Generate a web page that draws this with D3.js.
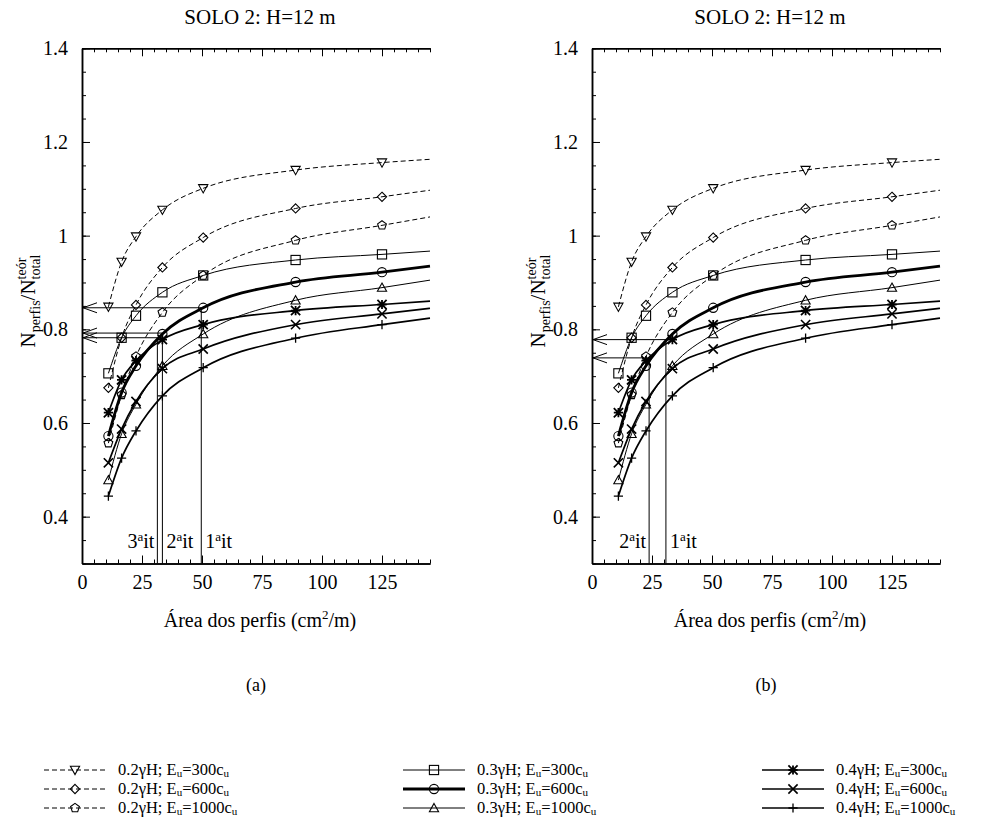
<!DOCTYPE html>
<html>
<head>
<meta charset="utf-8">
<script src="https://cdn.jsdelivr.net/npm/d3@7"></script>
<style>
  body { margin: 0; background: #fff; }
  svg { display: block; font-family: "Liberation Serif", "Times New Roman", serif; }
</style>
</head>
<body>
<svg id="chart" width="998" height="830"></svg>
<script>
// Sheet-pile profile areas (cm²/m) where results were computed
const areas = [11, 16.5, 22.5, 33.5, 50.5, 89, 125];
// Fitted curves are traced up to this area
const areaEnd = 145;

// N_perfis / N_total^teór for each case (load level, undrained modulus)
const s02E300  = [0.848, 0.944, 0.998, 1.055, 1.101, 1.140, 1.156];
const s02E600  = [0.675, 0.782, 0.852, 0.932, 0.996, 1.058, 1.083];
const s02E1000 = [0.557, 0.660, 0.742, 0.836, 0.915, 0.990, 1.022];
const s03E300  = [0.706, 0.782, 0.829, 0.879, 0.915, 0.948, 0.960];
const s03E600  = [0.572, 0.665, 0.722, 0.790, 0.846, 0.901, 0.922];
const s03E1000 = [0.478, 0.577, 0.640, 0.722, 0.790, 0.862, 0.889];
const s04E300  = [0.622, 0.692, 0.733, 0.778, 0.810, 0.840, 0.853];
const s04E600  = [0.515, 0.587, 0.646, 0.716, 0.758, 0.810, 0.833];
const s04E1000 = [0.444, 0.525, 0.583, 0.658, 0.718, 0.781, 0.810];
// value of each fitted curve at areaEnd
const curveEnds = [1.163, 1.097, 1.040, 0.967, 0.935, 0.905, 0.860, 0.845, 0.824];

const loadLevels = ["0.2", "0.2", "0.2", "0.3", "0.3", "0.3", "0.4", "0.4", "0.4"];
const moduli     = [300, 600, 1000, 300, 600, 1000, 300, 600, 1000];
const seriesValues = [s02E300, s02E600, s02E1000, s03E300, s03E600, s03E1000, s04E300, s04E600, s04E1000];

// Iterations on the design area, panel (a) and panel (b)
const iterAreaA  = [49.7, 33.5, 31.4];
const iterRatioA = [0.846, 0.792, 0.782];
const iterAreaB  = [30.8, 23.8];
const iterRatioB = [0.778, 0.739];

const xTicks = [0, 25, 50, 75, 100, 125];
const yTicks = [0.4, 0.6, 0.8, 1, 1.2, 1.4];
const titleText = "SOLO 2: H=12 m";

// ---- drawing ----
const svg = d3.select("#chart");
const black = "#000";
const serif = "Liberation Serif, Times New Roman, serif";

const y = d3.scaleLinear().domain([0.3, 1.4]).range([563.5, 48.3]);

// marker shapes (gnuplot-like point types)
const markerKinds = ["triDown", "diamond", "pentagon", "square", "circle", "triUp", "star", "cross", "plus"];
function drawMarker(g, kind, cx, cy) {
  const m = g.append("g").attr("transform", `translate(${cx},${cy})`)
    .attr("fill", "none").attr("stroke", black).attr("stroke-width", 1.1);
  const r = 4.6;
  if (kind === "triDown") m.append("path").attr("d", `M${-r},${-r*0.8}L${r},${-r*0.8}L0,${r}Z`);
  else if (kind === "triUp") m.append("path").attr("d", `M0,${-r}L${r},${r*0.8}L${-r},${r*0.8}Z`);
  else if (kind === "diamond") m.append("path").attr("d", `M0,${-r}L${r},0L0,${r}L${-r},0Z`);
  else if (kind === "square") m.append("rect").attr("x", -r).attr("y", -r).attr("width", 2*r).attr("height", 2*r);
  else if (kind === "circle") m.append("circle").attr("r", r);
  else if (kind === "pentagon") {
    const pts = d3.range(5).map(k => {
      const a = -Math.PI / 2 + k * 2 * Math.PI / 5;
      return [r * Math.cos(a), r * Math.sin(a)];
    });
    m.append("path").attr("d", "M" + pts.map(p => p.join(",")).join("L") + "Z");
  } else if (kind === "plus") {
    m.attr("stroke-width", 1.3);
    m.append("path").attr("d", `M${-r},0L${r},0M0,${-r}L0,${r}`);
  } else if (kind === "cross") {
    m.attr("stroke-width", 1.6);
    m.append("path").attr("d", `M${-r},${-r}L${r},${r}M${-r},${r}L${r},${-r}`);
  } else if (kind === "star") {
    m.attr("stroke-width", 1.8);
    m.append("path").attr("d", `M${-r},${-r}L${r},${r}M${-r},${r}L${r},${-r}M${-r},0L${r},0M0,${-r}L0,${r}`);
  }
}

function lineStyle(i) {
  const load = loadLevels[i];
  if (load === "0.2") return { width: 1, dash: "5,3" };
  if (load === "0.3") return { width: moduli[i] === 600 ? 2.8 : 1, dash: null };
  return { width: 1.7, dash: null };
}

function drawPanel(left, iterArea, iterRatio, caption) {
  const x = d3.scaleLinear().domain([0, areaEnd]).range([left, left + 2.4 * areaEnd]);
  const g = svg.append("g");
  const x0 = x(0), xMid = (x(0) + x(areaEnd)) / 2;

  // axes: major ticks every 25 / 0.2, minor every 5 / 0.05, all pointing inward
  const minorX = d3.range(0, areaEnd + 0.1, 5);
  const minorY = d3.range(0.3, 1.401, 0.05).map(v => +v.toFixed(2));

  const styleAxis = sel => {
    sel.select(".domain").attr("stroke", black).attr("stroke-width", 1.5);
    sel.selectAll(".tick line").attr("stroke", black).attr("stroke-width", 1);
    sel.selectAll(".tick text").attr("fill", black).attr("font-size", 20).attr("font-family", serif);
  };

  g.append("g").attr("transform", `translate(0,${y(0.3)})`)
    .call(d3.axisBottom(x).tickValues(minorX).tickSize(-4).tickSizeOuter(0).tickFormat(""))
    .call(styleAxis);
  g.append("g").attr("transform", `translate(0,${y(0.3)})`)
    .call(d3.axisBottom(x).tickValues(xTicks).tickSize(-8).tickSizeOuter(0).tickPadding(11).tickFormat(d3.format("d")))
    .call(styleAxis);
  g.append("g").attr("transform", `translate(0,${y(1.4)})`)
    .call(d3.axisTop(x).tickValues(minorX).tickSize(-4).tickSizeOuter(0).tickFormat(""))
    .call(styleAxis);
  g.append("g").attr("transform", `translate(0,${y(1.4)})`)
    .call(d3.axisTop(x).tickValues(xTicks).tickSize(-8).tickSizeOuter(0).tickFormat(""))
    .call(styleAxis);
  g.append("g").attr("transform", `translate(${x0},0)`)
    .call(d3.axisLeft(y).tickValues(minorY).tickSize(-4).tickSizeOuter(0).tickFormat(""))
    .call(styleAxis);
  g.append("g").attr("transform", `translate(${x0},0)`)
    .call(d3.axisLeft(y).tickValues(yTicks).tickSize(-8).tickSizeOuter(0).tickPadding(14).tickFormat(d => String(d)))
    .call(styleAxis);

  // curves
  const line = d3.line().x(d => x(d[0])).y(d => y(d[1])).curve(d3.curveMonotoneX);
  seriesValues.forEach((vals, i) => {
    const pts = areas.map((a, j) => [a, vals[j]]).concat([[areaEnd, curveEnds[i]]]);
    const st = lineStyle(i);
    g.append("path").attr("d", line(pts)).attr("fill", "none").attr("stroke", black)
      .attr("stroke-width", st.width).attr("stroke-dasharray", st.dash);
  });
  seriesValues.forEach((vals, i) => {
    areas.forEach((a, j) => drawMarker(g, markerKinds[i], x(a), y(vals[j])));
  });

  // iteration construction lines with arrows onto the ratio axis
  const last = iterArea.length - 1;
  iterArea.forEach((a, i) => {
    const xa = x(a), yr = y(iterRatio[i]);
    g.append("line").attr("x1", xa).attr("x2", xa).attr("y1", y(0.3)).attr("y2", yr)
      .attr("stroke", black).attr("stroke-width", 1);
    g.append("line").attr("x1", xa).attr("x2", x0).attr("y1", yr).attr("y2", yr)
      .attr("stroke", black).attr("stroke-width", 1);
    g.append("path").attr("d", `M${x0 + 15},${yr - 5}L${x0 + 1},${yr}L${x0 + 15},${yr + 5}`)
      .attr("fill", "none").attr("stroke", black).attr("stroke-width", 1);
    const t = g.append("text").attr("y", 548).attr("font-size", 20).attr("fill", black)
      .attr("x", i === last ? xa - 3 : xa + 4)
      .attr("text-anchor", i === last ? "end" : "start");
    t.append("tspan").text(String(i + 1));
    t.append("tspan").attr("font-size", 13).attr("dy", -7).text("a");
    t.append("tspan").attr("dy", 7).text("it");
  });

  // title
  g.append("text").attr("x", xMid + 4).attr("y", 24).attr("text-anchor", "middle")
    .attr("font-size", 21).attr("fill", black).text(titleText);

  // x label
  const xl = g.append("text").attr("x", xMid + 4).attr("y", 627).attr("text-anchor", "middle")
    .attr("font-size", 20).attr("fill", black);
  xl.append("tspan").text("Área dos perfis (cm");
  xl.append("tspan").attr("font-size", 13).attr("dy", -8).text("2");
  xl.append("tspan").attr("dy", 8).text("/m)");

  // y label (rotated), built piece by piece
  const yl = g.append("g").attr("transform", `translate(${x0 - 47},301) rotate(-90)`);
  const pieces = [];
  let cx = 0;
  const add = (txt, size, dy, advance) => {
    const t = yl.append("text").attr("x", cx).attr("y", dy).attr("font-size", size).attr("fill", black).text(txt);
    const w = t.node().getComputedTextLength();
    pieces.push(t);
    if (advance) cx += w;
    return w;
  };
  add("N", 21, 0, true);
  add("perfis", 14, 5, true);
  add("/N", 21, 0, true);
  const w1 = add("teór", 14, -9, false);
  const w2 = add("total", 14, 5, false);
  cx += Math.max(w1, w2);
  const shift = -cx / 2;
  pieces.forEach(t => t.attr("x", +t.attr("x") + shift));

  // caption
  g.append("text").attr("x", xMid).attr("y", 691).attr("text-anchor", "middle")
    .attr("font-size", 18).attr("fill", black).text(caption);
}

drawPanel(82, iterAreaA, iterRatioA, "(a)");
drawPanel(592, iterAreaB, iterRatioB, "(b)");

// legend: three columns, one per load level
const legendCols = [44, 403, 762];
const legendRows = [770, 789, 808];
seriesValues.forEach((vals, i) => {
  const col = Math.floor(i / 3), row = i % 3;
  const x1 = legendCols[col], x2 = x1 + 62, ly = legendRows[row];
  const st = lineStyle(i);
  const g = svg.append("g");
  g.append("line").attr("x1", x1).attr("x2", x2).attr("y1", ly).attr("y2", ly)
    .attr("stroke", black).attr("stroke-width", st.width).attr("stroke-dasharray", st.dash);
  drawMarker(g, markerKinds[i], (x1 + x2) / 2, ly);
  const t = g.append("text").attr("x", x2 + 12).attr("y", ly + 5).attr("font-size", 16.5).attr("fill", black);
  t.append("tspan").text(`${loadLevels[i]}γH; E`);
  t.append("tspan").attr("font-size", 11).attr("dy", 2).text("u");
  t.append("tspan").attr("dy", -2).text(`=${moduli[i]}c`);
  t.append("tspan").attr("font-size", 11).attr("dy", 2).text("u");
});
</script>
</body>
</html>
